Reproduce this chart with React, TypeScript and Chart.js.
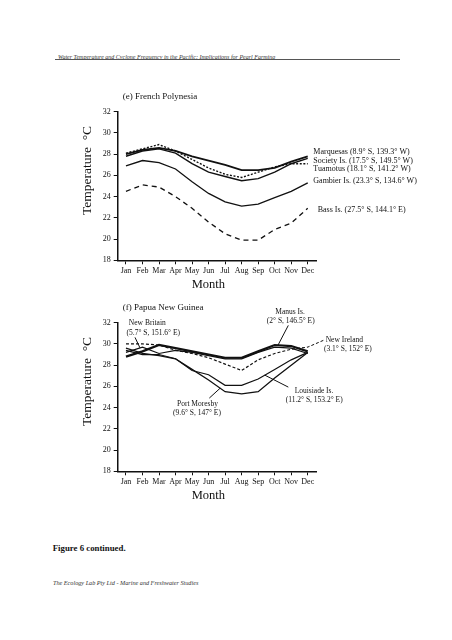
import React, { useEffect, useRef } from "react";
import { Chart, registerables } from "chart.js";
Chart.register(...registerables);

const FONT = '"Liberation Serif", "Times New Roman", serif';
const INK = "#111";

const months = ["Jan", "Feb", "Mar", "Apr", "May", "Jun", "Jul", "Aug", "Sep", "Oct", "Nov", "Dec"];
const yMin = 18;
const yMax = 32;
const yStep = 2;

// (e) French Polynesia
const marquesas = [28.0, 28.4, 28.6, 28.3, 27.8, 27.4, 27.0, 26.5, 26.5, 26.7, 27.3, 27.8];
const society = [27.8, 28.3, 28.5, 28.1, 27.1, 26.3, 25.9, 25.5, 25.7, 26.3, 27.1, 27.6];
const tuamotus = [28.1, 28.5, 28.9, 28.3, 27.5, 26.7, 26.1, 25.8, 26.3, 26.8, 27.1, 27.1];
const gambier = [26.9, 27.4, 27.2, 26.6, 25.4, 24.3, 23.5, 23.1, 23.3, 23.9, 24.5, 25.3];
const bass = [24.5, 25.1, 24.9, 24.0, 22.9, 21.6, 20.5, 19.9, 19.9, 20.9, 21.5, 22.9];

// (f) Papua New Guinea
const manus = [28.8, 29.3, 29.9, 29.6, 29.3, 29.0, 28.7, 28.7, 29.3, 29.9, 29.8, 29.3];
const newBritain = [29.2, 29.7, 29.1, 29.4, 29.2, 28.9, 28.6, 28.6, 29.2, 29.7, 29.6, 29.1];
const newIreland = [30.0, 30.0, 29.9, 29.4, 29.1, 28.7, 28.1, 27.5, 28.5, 29.1, 29.5, 29.7];
const portMoresby = [29.6, 29.1, 28.9, 28.6, 27.6, 26.6, 25.5, 25.3, 25.5, 26.8, 28.0, 29.2];
const louisiade = [29.4, 29.0, 29.0, 28.6, 27.5, 27.1, 26.1, 26.1, 26.7, 27.6, 28.5, 29.2];

type Lbl = { text: string; x: number; y: number; align?: CanvasTextAlign; size?: number };
type Leader = { series: number[]; at: number; x: number; y: number; dash?: number[] };
type Ds = { data: number[]; width: number; dash?: number[] };
type Cfg = { title: string; labels: Lbl[]; leaders: Leader[]; datasets: Ds[] };

const annotPlugin = {
  id: "annot",
  afterDraw(chart: any, _args: any, cfg: Cfg) {
    const { ctx, chartArea: ca, scales } = chart;
    const xs = scales.x;
    const ys = scales.y;
    ctx.save();
    ctx.fillStyle = INK;
    ctx.textBaseline = "middle";
    ctx.font = `9px ${FONT}`;
    ctx.textAlign = "left";
    ctx.fillText(cfg.title, ca.left + 5, ca.top - 15);
    ctx.font = `12.5px ${FONT}`;
    ctx.textAlign = "center";
    ctx.fillText("Month", ca.left + 90.6, ca.bottom + 24);
    ctx.save();
    ctx.translate(ca.left - 30, ca.top + 58.8);
    ctx.rotate(-Math.PI / 2);
    ctx.font = `13.5px ${FONT}`;
    ctx.textAlign = "center";
    ctx.fillText("Temperature  °C", 0, 0);
    ctx.restore();
    for (const l of cfg.labels) {
      ctx.font = `${l.size || 8}px ${FONT}`;
      ctx.textAlign = l.align || "left";
      ctx.fillText(l.text, ca.left + l.x, ca.top + l.y);
    }
    for (const ld of cfg.leaders) {
      const i0 = Math.floor(ld.at);
      const i1 = Math.min(i0 + 1, months.length - 1);
      const f = ld.at - i0;
      const v = ld.series[i0] * (1 - f) + ld.series[i1] * f;
      const px = xs.getPixelForValue(i0) * (1 - f) + xs.getPixelForValue(i1) * f;
      const py = ys.getPixelForValue(v);
      ctx.beginPath();
      ctx.setLineDash(ld.dash || []);
      ctx.lineWidth = 1;
      ctx.strokeStyle = INK;
      ctx.moveTo(ca.left + ld.x, ca.top + ld.y);
      ctx.lineTo(px, py);
      ctx.stroke();
    }
    ctx.restore();
  },
};

function TempChart({ top, cfg }: { top: number; cfg: Cfg }) {
  const ref = useRef<HTMLCanvasElement>(null);
  useEffect(() => {
    const gridOpts = {
      display: true,
      drawOnChartArea: false,
      drawTicks: true,
      tickLength: 4,
      offset: false,
      color: INK,
      lineWidth: 1,
    };
    const borderOpts = { display: true, color: INK, width: 1.5 };
    const chart = new Chart(ref.current as HTMLCanvasElement, {
      type: "line",
      data: {
        labels: months,
        datasets: cfg.datasets.map((d) => ({
          data: d.data,
          borderColor: INK,
          borderWidth: d.width,
          borderDash: d.dash || [],
          pointRadius: 0,
          fill: false,
          tension: 0,
        })),
      },
      options: {
        animation: false,
        responsive: false,
        devicePixelRatio: 1,
        layout: { padding: { left: 0, right: 136, top: 31.7, bottom: 0 } },
        plugins: {
          legend: { display: false },
          tooltip: { enabled: false },
          annot: cfg,
        } as any,
        scales: {
          x: {
            type: "category",
            offset: true,
            grid: gridOpts,
            border: borderOpts,
            ticks: {
              autoSkip: false,
              maxRotation: 0,
              minRotation: 0,
              padding: 2,
              color: INK,
              font: { family: FONT, size: 8 },
            },
            afterFit: (s: any) => {
              s.height = 39.7;
            },
          },
          y: {
            min: yMin,
            max: yMax,
            grid: gridOpts,
            border: borderOpts,
            ticks: { stepSize: yStep, padding: 3, color: INK, font: { family: FONT, size: 8 } },
            afterFit: (s: any) => {
              s.width = 117.7;
            },
          },
        } as any,
      },
      plugins: [annotPlugin as any],
    });
    return () => chart.destroy();
  }, []);
  return (
    <canvas
      ref={ref}
      width={452}
      height={220}
      style={{ position: "absolute", left: 0, top, width: 452, height: 220 }}
    />
  );
}

const cfgE: Cfg = {
  title: "(e) French Polynesia",
  datasets: [
    { data: marquesas, width: 1.8 },
    { data: society, width: 1.4 },
    { data: tuamotus, width: 1.4, dash: [2, 1.6] },
    { data: gambier, width: 1.3 },
    { data: bass, width: 1.3, dash: [5, 4] },
  ],
  labels: [
    { text: "Marquesas (8.9° S, 139.3° W)", x: 195.6, y: 40 },
    { text: "Society Is. (17.5° S, 149.5° W)", x: 195.6, y: 49 },
    { text: "Tuamotus (18.1° S, 141.2° W)", x: 195.6, y: 57.6 },
    { text: "Gambier Is. (23.3° S, 134.6° W)", x: 195.6, y: 69 },
    { text: "Bass Is. (27.5° S, 144.1° E)", x: 200, y: 98.3 },
  ],
  leaders: [],
};

const cfgF: Cfg = {
  title: "(f) Papua New Guinea",
  datasets: [
    { data: manus, width: 2.2 },
    { data: newBritain, width: 1.2 },
    { data: newIreland, width: 1.2, dash: [3, 2] },
    { data: portMoresby, width: 1.3 },
    { data: louisiade, width: 1.2 },
  ],
  labels: [
    { text: "New Britain", x: 29.6, y: 0, align: "center", size: 7.5 },
    { text: "(5.7° S, 151.6° E)", x: 35.6, y: 10, align: "center", size: 7.5 },
    { text: "Manus Is.", x: 172.3, y: -10.6, align: "center", size: 7.5 },
    { text: "(2° S, 146.5° E)", x: 173, y: -1.6, align: "center", size: 7.5 },
    { text: "New Ireland", x: 208, y: 17, size: 7.5 },
    { text: "(3.1° S, 152° E)", x: 206.3, y: 26, size: 7.5 },
    { text: "Louisiade Is.", x: 196.3, y: 68.4, align: "center", size: 7.5 },
    { text: "(11.2° S, 153.2° E)", x: 196.5, y: 77.7, align: "center", size: 7.5 },
    { text: "Port Moresby", x: 79.8, y: 81, align: "center", size: 7.5 },
    { text: "(9.6° S, 147° E)", x: 79.3, y: 90.4, align: "center", size: 7.5 },
  ],
  leaders: [
    { series: newBritain, at: 0.85, x: 17.3, y: 14.7 },
    { series: manus, at: 9.2, x: 170.6, y: 2.7 },
    { series: newIreland, at: 11, x: 205.6, y: 17.7, dash: [3, 2] },
    { series: louisiade, at: 8.4, x: 170.6, y: 64.4 },
    { series: portMoresby, at: 5.7, x: 91.6, y: 75.4 },
  ],
};

export default function App() {
  return (
    <div
      style={{
        position: "absolute",
        left: 0,
        top: 0,
        width: 452,
        height: 640,
        background: "#fff",
        overflow: "hidden",
      }}
    >
      <div
        style={{
          position: "absolute",
          left: 58,
          top: 53.5,
          fontFamily: FONT,
          fontStyle: "italic",
          fontSize: 6,
          lineHeight: "6px",
          whiteSpace: "nowrap",
          color: "#333",
        }}
      >
        Water Temperature and Cyclone Frequency in the Pacific: Implications for Pearl Farming
      </div>
      <div style={{ position: "absolute", left: 55, top: 59.3, width: 345, height: 1.2, background: "#555" }} />
      <TempChart top={80} cfg={cfgE} />
      <TempChart top={290.6} cfg={cfgF} />
      <div
        style={{
          position: "absolute",
          left: 52.7,
          top: 544.3,
          fontFamily: FONT,
          fontWeight: "bold",
          fontSize: 8.8,
          lineHeight: "8.8px",
          whiteSpace: "nowrap",
          color: "#111",
        }}
      >
        Figure 6 continued.
      </div>
      <div
        style={{
          position: "absolute",
          left: 53,
          top: 580.2,
          fontFamily: FONT,
          fontStyle: "italic",
          fontSize: 6.2,
          lineHeight: "6.2px",
          whiteSpace: "nowrap",
          color: "#333",
        }}
      >
        The Ecology Lab Pty Ltd - Marine and Freshwater Studies
      </div>
    </div>
  );
}
